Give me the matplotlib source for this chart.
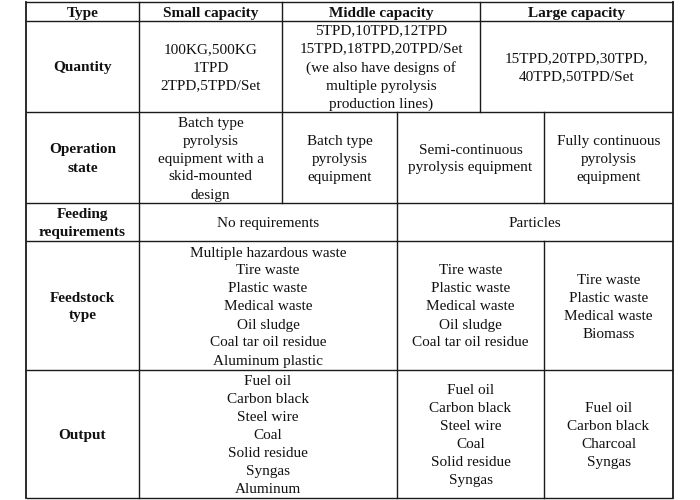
import matplotlib
matplotlib.use("Agg")
import matplotlib.pyplot as plt

# ---- table content ----
header = ["Type", "Small capacity", "Middle capacity", "Large capacity"]
row_labels = ["Quantity", "Operation\nstate", "Feeding\nrequirements", "Feedstock\ntype", "Output"]

quantity = [
    "100KG,500KG\n1TPD\n2TPD,5TPD/Set",
    "5TPD,10TPD,12TPD\n15TPD,18TPD,20TPD/Set\n(we also have designs of\nmultiple pyrolysis\nproduction lines)",
    "15TPD,20TPD,30TPD,\n40TPD,50TPD/Set",
]
operation = [
    "Batch type\npyrolysis\nequipment with a\nskid-mounted\ndesign",
    "Batch type\npyrolysis\nequipment",
    "Semi-continuous\npyrolysis equipment",
    "Fully continuous\npyrolysis\nequipment",
]
feeding = ["No requirements", "Particles"]
feedstock = [
    ["Multiple hazardous waste", "Tire waste", "Plastic waste", "Medical waste",
     "Oil sludge", "Coal tar oil residue", "Aluminum plastic"],
    ["Tire waste", "Plastic waste", "Medical waste", "Oil sludge", "Coal tar oil residue"],
    ["Tire waste", "Plastic waste", "Medical waste", "Biomass"],
]
output = [
    ["Fuel oil", "Carbon black", "Steel wire", "Coal", "Solid residue", "Syngas", "Aluminum"],
    ["Fuel oil", "Carbon black", "Steel wire", "Coal", "Solid residue", "Syngas"],
    ["Fuel oil", "Carbon black", "Charcoal", "Syngas"],
]

# ---- layout (pixel grid) ----
X0, XT, XS, XB, XM, XSC, XR = 26, 139, 282, 397, 480, 544, 673
rows_y = [2, 21, 112, 203, 241, 370, 498]

fig = plt.figure(figsize=(7, 5), dpi=100)
ax = fig.add_axes([0, 0, 1, 1])
ax.set_xlim(0, 700)
ax.set_ylim(500, 0)
ax.axis("off")

lc = "#1a1a1a"
lw = 1.0
# horizontal lines
for y in rows_y:
    ax.plot([X0, XR], [y, y], color=lc, lw=lw, solid_capstyle="butt")
# vertical lines
ax.plot([X0, X0], [rows_y[0], rows_y[-1]], color=lc, lw=1.3)
ax.plot([XR, XR], [rows_y[0], rows_y[-1]], color=lc, lw=1.3)
ax.plot([XT, XT], [rows_y[0], rows_y[-1]], color=lc, lw=lw)
ax.plot([XS, XS], [rows_y[0], rows_y[3]], color=lc, lw=lw)
ax.plot([XM, XM], [rows_y[0], rows_y[2]], color=lc, lw=lw)
ax.plot([XB, XB], [rows_y[2], rows_y[-1]], color=lc, lw=lw)
ax.plot([XSC, XSC], [rows_y[2], rows_y[3]], color=lc, lw=lw)
ax.plot([XSC, XSC], [rows_y[4], rows_y[-1]], color=lc, lw=lw)

FONT = "Liberation Serif"
FS = 11
LS = 1.50
DY = 1.5
tc = "#111111"

def cell(x0, x1, y0, y1, s, bold=False):
    if isinstance(s, list):
        s = "\n".join(s)
    ax.text((x0 + x1) / 2, (y0 + y1) / 2 + DY, s, ha="center", va="center",
            multialignment="center", fontsize=FS, family=FONT,
            fontweight="bold" if bold else "normal", linespacing=LS, color=tc)

# header
cell(X0, XT, rows_y[0], rows_y[1], header[0], bold=True)
cell(XT, XS, rows_y[0], rows_y[1], header[1], bold=True)
cell(XS, XM, rows_y[0], rows_y[1], header[2], bold=True)
cell(XM, XR, rows_y[0], rows_y[1], header[3], bold=True)

# row labels
for i, lab in enumerate(row_labels):
    cell(X0, XT, rows_y[i + 1], rows_y[i + 2], lab, bold=True)

# quantity
cell(XT, XS, rows_y[1], rows_y[2], quantity[0])
cell(XS, XM, rows_y[1], rows_y[2], quantity[1])
cell(XM, XR, rows_y[1], rows_y[2], quantity[2])

# operation
cell(XT, XS, rows_y[2], rows_y[3], operation[0])
cell(XS, XB, rows_y[2], rows_y[3], operation[1])
cell(XB, XSC, rows_y[2], rows_y[3], operation[2])
cell(XSC, XR, rows_y[2], rows_y[3], operation[3])

# feeding
cell(XT, XB, rows_y[3], rows_y[4], feeding[0])
cell(XB, XR, rows_y[3], rows_y[4], feeding[1])

# feedstock
cell(XT, XB, rows_y[4], rows_y[5], feedstock[0])
cell(XB, XSC, rows_y[4], rows_y[5], feedstock[1])
cell(XSC, XR, rows_y[4], rows_y[5], feedstock[2])

# output
cell(XT, XB, rows_y[5], rows_y[6], output[0])
cell(XB, XSC, rows_y[5], rows_y[6], output[1])
cell(XSC, XR, rows_y[5], rows_y[6], output[2])

fig.savefig("out.png", dpi=100, facecolor="white")
